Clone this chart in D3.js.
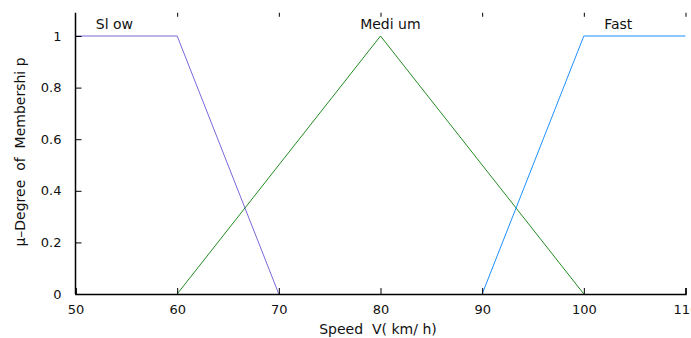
<!DOCTYPE html>
<html><head><meta charset="utf-8">
<script src="https://cdn.jsdelivr.net/npm/d3@7"></script>
<style>
html,body{margin:0;padding:0;background:#fff;}
svg{display:block;font-family:"DejaVu Sans",sans-serif;}
svg text{white-space:pre;}
</style></head>
<body><svg id="c" width="691" height="338"></svg>
<script>
const setNames = ["Sl ow", "Medi um", "Fast"];
const setColors = ["#7b68d8", "#228b22", "#1e90ff"];
const slowX = [50, 60, 70];
const slowY = [1, 1, 0];
const mediumX = [60, 80, 100];
const mediumY = [0, 1, 0];
const fastX = [90, 100, 110];
const fastY = [0, 1, 1];
const labelX = [52, 78, 102];
const xTicks = [50, 60, 70, 80, 90, 100, 110];
const yTicks = [0, 0.2, 0.4, 0.6, 0.8, 1];
const xTitle = "Speed  V( km/ h)";
const yTitle = "\u03bc\u2013Degree  of  Membershi p";

const svg = d3.select("#c");
const x = d3.scaleLinear().domain([50, 110]).range([75.5, 685.5]);
const y = d3.scaleLinear().domain([0, 1]).range([294, 36]);
const yTop = y(1.09);

const series = [
  {x: slowX, y: slowY}, {x: mediumX, y: mediumY}, {x: fastX, y: fastY}
];
const line = d3.line().x(d => x(d[0])).y(d => y(d[1]));
series.forEach((s, i) => {
  svg.append("path")
    .attr("d", line(s.x.map((v, j) => [v, s.y[j]])))
    .attr("fill", "none").attr("stroke", setColors[i]).attr("stroke-width", 1);
});

// bottom axis
const gx = svg.append("g").attr("transform", `translate(0,${y(0)})`)
  .call(d3.axisBottom(x).tickValues(xTicks).tickSize(-6).tickPadding(11).tickFormat(d3.format("d")));
gx.select(".domain").attr("stroke", "#000").attr("stroke-width", 1.5);
gx.selectAll("text").attr("font-size", 13).attr("font-family", "DejaVu Sans").attr("fill", "#111");

// top ticks only
const gt = svg.append("g").attr("transform", `translate(0,${yTop})`)
  .call(d3.axisTop(x).tickValues(xTicks.slice(1)).tickSize(-4).tickFormat(""));
gt.select(".domain").remove();

// left axis
const gy = svg.append("g").attr("transform", `translate(${x(50)},0)`)
  .call(d3.axisLeft(y).tickValues(yTicks).tickSize(-6).tickPadding(14).tickFormat(d3.format("~g")));
gy.select(".domain").attr("d", `M0,${y(0)}V${yTop}`).attr("stroke", "#000").attr("stroke-width", 1.5);
gy.selectAll("text").attr("font-size", 13).attr("font-family", "DejaVu Sans").attr("fill", "#111");

// set labels
setNames.forEach((n, i) => {
  svg.append("text").attr("x", x(labelX[i])).attr("y", 29)
    .attr("text-anchor", "start").attr("font-size", 14).attr("fill", "#111").text(n);
});

svg.append("text").attr("x", 378).attr("y", 334).attr("text-anchor", "middle")
  .attr("font-size", 14).attr("fill", "#111").text(xTitle);
svg.append("text").attr("transform", "translate(25,152) rotate(-90)").attr("text-anchor", "middle")
  .attr("font-size", 14).attr("fill", "#111").text(yTitle);
</script></body></html>
